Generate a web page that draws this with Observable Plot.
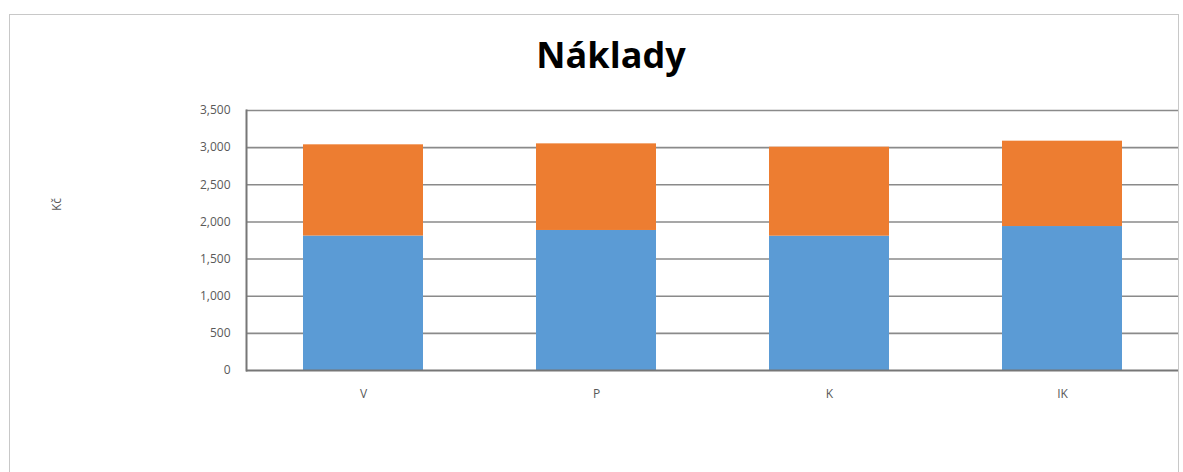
<!DOCTYPE html>
<html><head><meta charset="utf-8">
<script src="https://cdn.jsdelivr.net/npm/d3@7"></script>
<script src="https://cdn.jsdelivr.net/npm/@observablehq/plot@0.6"></script>
<style>
body{margin:0;background:#fff;}
#wrap{position:relative;width:1183px;height:472px;overflow:hidden;font-family:"Open Sans",sans-serif;}
#frame{position:absolute;left:9px;top:14px;width:1170px;height:480px;border:1.5px solid #c8c8c8;box-sizing:border-box;}
#title{position:absolute;left:0;width:1222px;top:30px;text-align:center;font:bold 36px "Open Sans",sans-serif;color:#000;}
#ylab{position:absolute;left:50px;top:196px;transform:rotate(-90deg);font-size:12px;color:#595959;}
#chart{position:absolute;left:0;top:0;}
</style></head><body>
<div id="wrap"><div id="frame"></div><div id="title">Náklady</div><div id="ylab">Kč</div><div id="chart"></div></div>
<script>
const categories = ["V","P","K","IK"];
const series = ["A","B"];
const valuesA = [1810,1885,1808,1938];
const valuesB = [1228,1166,1198,1149];
const yTicks = [0,500,1000,1500,2000,2500,3000,3500];
const colors = ["#5B9BD5","#ED7D31"];

const data = [];
categories.forEach((c,i)=>{
  data.push({cat:c, s:series[0], v:valuesA[i]});
  data.push({cat:c, s:series[1], v:valuesB[i]});
});

const plot = Plot.plot({
  width:1183, height:472,
  marginLeft:246, marginRight:5, marginTop:110, marginBottom:102,
  style:{fontFamily:"Open Sans, sans-serif", fontSize:"12px", color:"#595959", background:"transparent"},
  x:{domain:categories, paddingInner:0.486, paddingOuter:0.243, label:null},
  y:{domain:[0,3500], label:null},
  color:{domain:series, range:colors},
  marks:[
    Plot.ruleY(yTicks.filter(d=>d>0), {stroke:"#8a8a8a", strokeWidth:1.6}),
    Plot.barY(data, {x:"cat", y:"v", fill:"s", order:series}),
    Plot.ruleY([0], {stroke:"#777", strokeWidth:2}),
    Plot.frame({anchor:"left", stroke:"#777", strokeWidth:2}),
    Plot.axisY({ticks:yTicks, tickFormat:d3.format(","), tickSize:0, tickPadding:16, fill:"#595959"}),
    Plot.axisX({tickSize:0, tickPadding:19, fill:"#595959"})
  ]
});
document.getElementById("chart").appendChild(plot);
</script>
</body></html>
